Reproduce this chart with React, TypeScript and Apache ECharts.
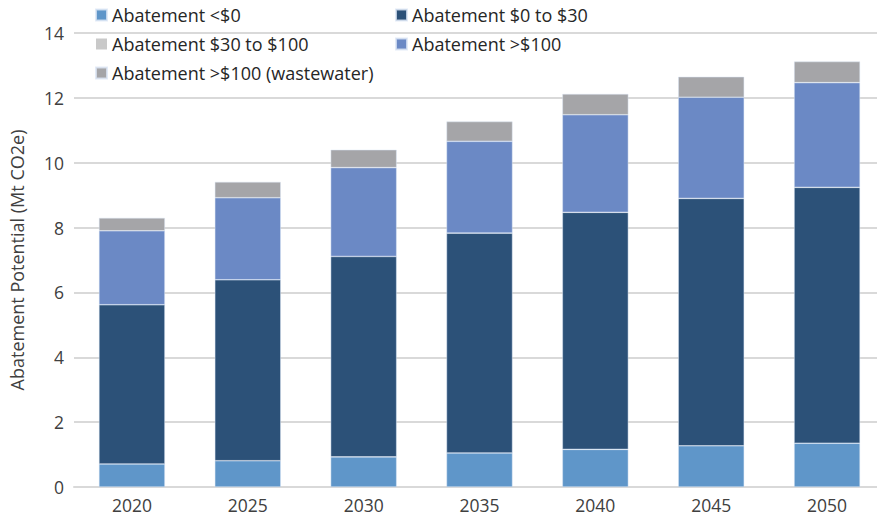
import React, { useEffect, useRef } from "react";
import * as echarts from "echarts";

const years = ["2020", "2025", "2030", "2035", "2040", "2045", "2050"];
const seriesNames = [
  "Abatement <$0",
  "Abatement $0 to $30",
  "Abatement $30 to $100",
  "Abatement >$100",
  "Abatement >$100 (wastewater)",
];
const belowZero = [0.71, 0.81, 0.93, 1.05, 1.16, 1.27, 1.35];
const zeroTo30 = [4.91, 5.58, 6.18, 6.78, 7.31, 7.63, 7.89];
const thirtyTo100 = [0, 0, 0, 0, 0, 0, 0];
const over100 = [2.28, 2.53, 2.74, 2.83, 3.01, 3.12, 3.23];
const wastewater = [0.4, 0.49, 0.55, 0.61, 0.64, 0.63, 0.65];
const colors = ["#5F96C9", "#2C5178", "#C9C9C9", "#6B89C5", "#A5A5A8"];

const FONT = "Open Sans";

export default function App() {
  const ref = useRef<HTMLDivElement>(null);
  useEffect(() => {
    if (!ref.current) return;
    const chart = echarts.init(ref.current, undefined, { renderer: "svg" });
    const data = [belowZero, zeroTo30, thirtyTo100, over100, wastewater];
    const legendText = { fontFamily: FONT, fontSize: 18, color: "#262626" };
    chart.setOption({
      animation: false,
      textStyle: { fontFamily: FONT },
      legend: [
        {
          data: [seriesNames[0], seriesNames[2], seriesNames[4]],
          orient: "vertical",
          left: 90,
          top: 1,
          itemGap: 11,
          itemWidth: 11,
          itemHeight: 11,
          icon: "rect",
          textStyle: legendText,
        },
        {
          data: [seriesNames[1], seriesNames[3]],
          orient: "vertical",
          left: 390,
          top: 1,
          itemGap: 11,
          itemWidth: 11,
          itemHeight: 11,
          icon: "rect",
          textStyle: legendText,
        },
      ],
      grid: { left: 72.6, right: -5, top: 33, bottom: 33, containLabel: false },
      xAxis: {
        type: "category",
        data: years,
        axisLine: { lineStyle: { color: "#D9D9D9", width: 2 } },
        axisTick: { show: false },
        axisLabel: { color: "#404040", fontSize: 17.5, fontFamily: FONT, margin: 9 },
      },
      yAxis: {
        type: "value",
        min: 0,
        max: 14,
        interval: 2,
        name: "Abatement Potential (Mt CO2e)",
        nameLocation: "middle",
        nameGap: 48,
        nameTextStyle: { color: "#404040", fontSize: 18, fontFamily: FONT },
        axisLabel: { color: "#404040", fontSize: 17.5, fontFamily: FONT, margin: 10 },
        splitLine: { lineStyle: { color: "#D9D9D9", width: 2 } },
        axisLine: { show: false },
        axisTick: { show: false },
      },
      series: seriesNames.map((name, i) => ({
        name,
        type: "bar",
        stack: "total",
        barWidth: "57%",
        data: data[i],
        itemStyle: {
          color: colors[i],
          borderColor: "rgba(220,230,245,0.8)",
          borderWidth: i === 2 ? 0 : 0.6,
        },
      })),
    });
    return () => chart.dispose();
  }, []);
  return <div ref={ref} style={{ width: 885, height: 520, marginLeft: -8, marginTop: -8 }} />;
}
